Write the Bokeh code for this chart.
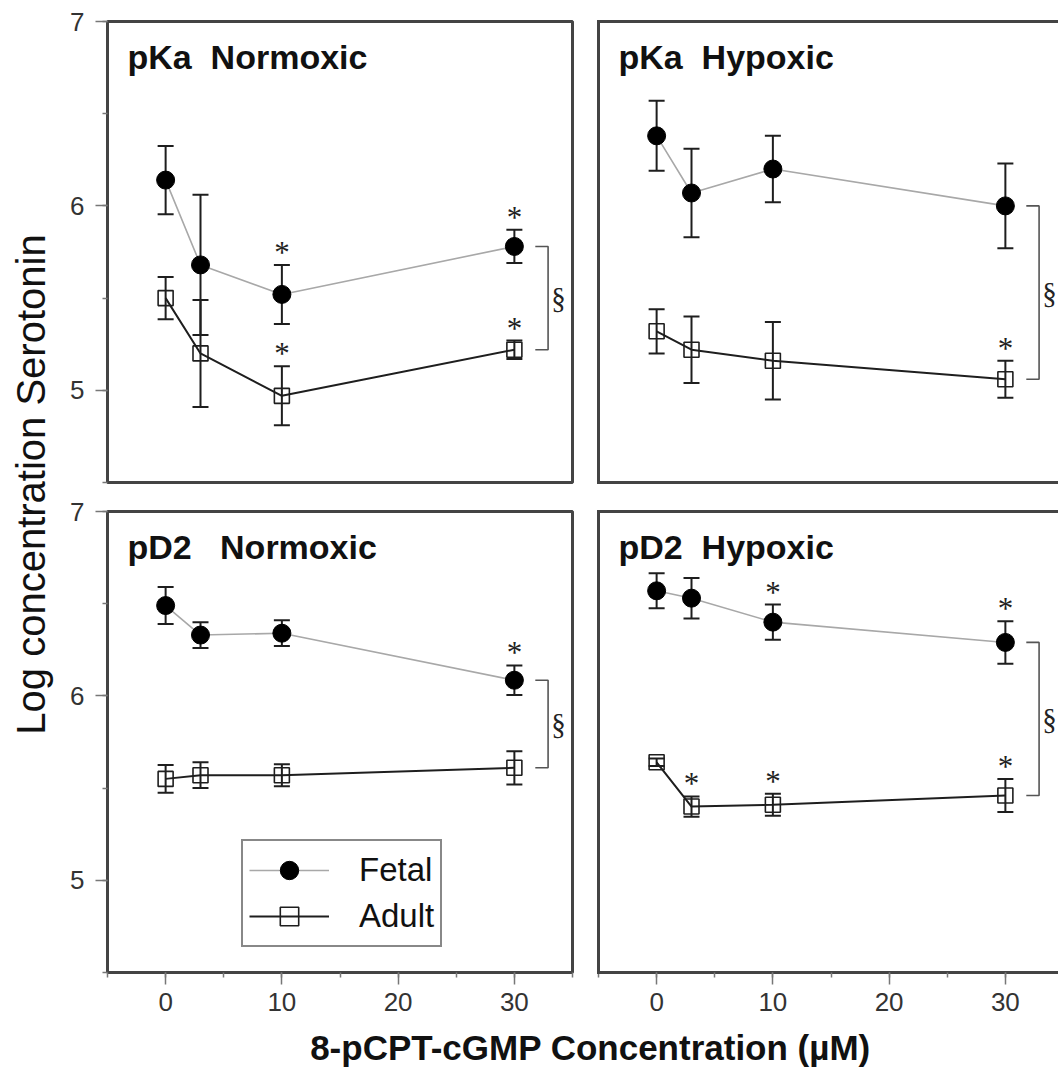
from bokeh.plotting import figure
from bokeh.models import (Range1d, ColumnDataSource, Whisker, TeeHead, Label, Legend,
                          LegendItem, LinearAxis, FixedTicker, SingleIntervalTicker)
from bokeh.layouts import row, column
from bokeh.embed import file_html
from bokeh.resources import INLINE
from bokeh.core.properties import value

# ---------------- data ----------------
conc = [0, 3, 10, 30]                      # 8-pCPT-cGMP concentration (uM)
x_major_interval = 10
y_major_interval = 1

NB = "\u00a0"
panel_titles = ["pKa" + NB + NB + "Normoxic", "pKa" + NB + NB + "Hypoxic",
                "pD2" + NB + NB + NB + "Normoxic", "pD2" + NB + NB + "Hypoxic"]
series_names = ["Fetal", "Adult"]
x_title = "8-pCPT-cGMP Concentration (\u00b5M)"
y_title = "Log concentration Serotonin"

pka_norm_fetal = [6.14, 5.68, 5.52, 5.78]
pka_norm_fetal_err = [0.185, 0.38, 0.16, 0.09]
pka_norm_adult = [5.50, 5.20, 4.97, 5.22]
pka_norm_adult_err = [0.115, 0.29, 0.16, 0.05]
pka_norm_fetal_sig = [0, 0, 1, 1]
pka_norm_adult_sig = [0, 0, 1, 1]

pka_hyp_fetal = [6.38, 6.07, 6.20, 6.00]
pka_hyp_fetal_err = [0.19, 0.24, 0.18, 0.23]
pka_hyp_adult = [5.32, 5.22, 5.16, 5.06]
pka_hyp_adult_err = [0.12, 0.18, 0.21, 0.10]
pka_hyp_fetal_sig = [0, 0, 0, 0]
pka_hyp_adult_sig = [0, 0, 0, 1]

pd2_norm_fetal = [6.49, 6.33, 6.34, 6.085]
pd2_norm_fetal_err = [0.10, 0.07, 0.07, 0.08]
pd2_norm_adult = [5.55, 5.57, 5.57, 5.61]
pd2_norm_adult_err = [0.075, 0.07, 0.06, 0.09]
pd2_norm_fetal_sig = [0, 0, 0, 1]
pd2_norm_adult_sig = [0, 0, 0, 0]

pd2_hyp_fetal = [6.57, 6.53, 6.40, 6.29]
pd2_hyp_fetal_err = [0.095, 0.11, 0.095, 0.115]
pd2_hyp_adult = [5.64, 5.40, 5.41, 5.46]
pd2_hyp_adult_err = [0.02, 0.055, 0.06, 0.09]
pd2_hyp_fetal_sig = [0, 0, 1, 1]
pd2_hyp_adult_sig = [0, 1, 1, 1]

# ---------------- style ----------------
SANS = "Liberation Sans"
SERIF = "Liberation Serif"
FRAME = "#444444"
FRAME_W = 3
TICK_C = "#777777"
DARK = "#1e1e1e"
FETAL_LINE = "#a8a8a8"
BRACKET_X0, BRACKET_X1, SECTION_X = 31.8, 32.9, 33.8
X_START, X_END_FULL = -5, 35
Y_START, Y_END = 4.5, 7
SCALE_X = 11.625  # px per x unit (same in every panel)
FRAME_H = 461


def line_only_axis(ax):
    ax.ticker = FixedTicker(ticks=[])
    ax.axis_line_color = FRAME
    ax.axis_line_width = FRAME_W
    ax.axis_line_cap = "square"
    ax.major_tick_line_color = None
    ax.minor_tick_line_color = None


def style_ticks(ax):
    ax.major_tick_out = 12
    ax.major_tick_in = 0
    ax.minor_tick_out = 5
    ax.minor_tick_in = 0
    ax.major_tick_line_color = TICK_C
    ax.minor_tick_line_color = TICK_C
    ax.major_tick_line_width = 1.5
    ax.minor_tick_line_width = 1.5
    ax.major_label_text_font = SANS
    ax.major_label_text_font_size = "26px"
    ax.major_label_text_color = "#333333"


def make_panel(title, fetal, fetal_err, adult, adult_err, fetal_sig, adult_sig,
               left, top, legend=False):
    frame_w = 465 if left else 460
    b_left = 49 if left else 13
    b_right = 13 if left else 0
    b_top = 21 if top else 15
    b_bottom = 14 if top else 50
    x_end = X_END_FULL if left else X_START + frame_w / SCALE_X
    p = figure(width=b_left + frame_w + b_right, height=b_top + FRAME_H + b_bottom,
               x_range=Range1d(X_START, x_end), y_range=Range1d(Y_START, Y_END),
               output_backend="svg", toolbar_location=None,
               min_border_left=b_left, min_border_right=b_right,
               min_border_top=b_top, min_border_bottom=b_bottom)
    p.grid.visible = False
    p.background_fill_color = "white"
    p.border_fill_color = "white"

    xax = p.xaxis[0]
    yax = p.yaxis[0]
    if left:
        p.outline_line_color = FRAME
        p.outline_line_width = FRAME_W
        p.outline_line_alpha = 1
        yax.ticker = SingleIntervalTicker(interval=y_major_interval, num_minor_ticks=2)
        yax.axis_line_color = None
        style_ticks(yax)
        yax.major_label_standoff = 11
    else:
        p.outline_line_color = None
        line_only_axis(yax)
        p.add_layout(LinearAxis(ticker=FixedTicker(ticks=[]), axis_line_color=FRAME,
                                axis_line_width=FRAME_W, axis_line_cap="square",
                                major_tick_line_color=None, minor_tick_line_color=None),
                     "above")
    if top:
        if left:
            xax.visible = False
        else:
            line_only_axis(xax)
    else:
        xax.ticker = SingleIntervalTicker(interval=x_major_interval, num_minor_ticks=2)
        style_ticks(xax)
        xax.major_label_standoff = 8
        if left:
            xax.axis_line_color = None
        else:
            xax.axis_line_color = FRAME
            xax.axis_line_width = FRAME_W
            xax.axis_line_cap = "square"

    src_f = ColumnDataSource(dict(x=conc, y=fetal,
                                  upper=[m + e for m, e in zip(fetal, fetal_err)],
                                  lower=[m - e for m, e in zip(fetal, fetal_err)]))
    src_a = ColumnDataSource(dict(x=conc, y=adult,
                                  upper=[m + e for m, e in zip(adult, adult_err)],
                                  lower=[m - e for m, e in zip(adult, adult_err)]))

    lf = p.line("x", "y", source=src_f, line_color=FETAL_LINE, line_width=1.6)
    la = p.line("x", "y", source=src_a, line_color=DARK, line_width=2)
    sf = p.scatter("x", "y", source=src_f, marker="circle", size=18,
                   fill_color="black", line_color="black")
    sa = p.scatter("x", "y", source=src_a, marker="square", size=15,
                   fill_alpha=0, line_color=DARK, line_width=1.6)
    for src in (src_f, src_a):
        p.add_layout(Whisker(source=src, base="x", upper="upper", lower="lower",
                             line_color=DARK, line_width=2,
                             upper_head=TeeHead(size=16, line_color=DARK, line_width=2),
                             lower_head=TeeHead(size=16, line_color=DARK, line_width=2)))

    # significance asterisks
    sx, sy = [], []
    for means, errs, sig in ((fetal, fetal_err, fetal_sig), (adult, adult_err, adult_sig)):
        for c, m, e, s in zip(conc, means, errs, sig):
            if s:
                sx.append(c)
                sy.append(m + e)
    if sx:
        p.text(x=sx, y=sy, text=["*"] * len(sx), text_font=value(SERIF),
               text_font_size="31px", text_align="center", text_baseline="bottom",
               text_color="#222222", y_offset=5)

    # section bracket between fetal and adult at the highest concentration
    f_last, a_last = fetal[-1], adult[-1]
    p.line(x=[BRACKET_X0, BRACKET_X1, BRACKET_X1, BRACKET_X0],
           y=[f_last, f_last, a_last, a_last], line_color="#555555", line_width=1.6)
    p.text(x=[SECTION_X], y=[(f_last + a_last) / 2], text=["\u00a7"],
           text_font=value(SERIF), text_font_size="29px", text_align="center",
           text_baseline="middle", text_color="#222222")

    p.add_layout(Label(x=X_START, y=Y_END, x_offset=20, y_offset=-35, text=title,
                       text_font=SANS, text_font_style="bold", text_font_size="34px",
                       text_color="#111111", text_baseline="middle"))

    if legend:
        lg = Legend(items=[LegendItem(label=series_names[0], renderers=[lf, sf]),
                           LegendItem(label=series_names[1], renderers=[la, sa])],
                    location=(134, 25), orientation="vertical",
                    label_text_font=SANS, label_text_font_size="33px",
                    label_text_color="#111111",
                    border_line_color="#111111", border_line_width=2.5,
                    background_fill_color="white", background_fill_alpha=1,
                    padding=6, margin=0, spacing=0,
                    glyph_width=80, glyph_height=46, label_height=46, label_standoff=30)
        p.add_layout(lg)
    return p


tl = make_panel(panel_titles[0], pka_norm_fetal, pka_norm_fetal_err, pka_norm_adult,
                pka_norm_adult_err, pka_norm_fetal_sig, pka_norm_adult_sig, left=True, top=True)
tr = make_panel(panel_titles[1], pka_hyp_fetal, pka_hyp_fetal_err, pka_hyp_adult,
                pka_hyp_adult_err, pka_hyp_fetal_sig, pka_hyp_adult_sig, left=False, top=True)
bl = make_panel(panel_titles[2], pd2_norm_fetal, pd2_norm_fetal_err, pd2_norm_adult,
                pd2_norm_adult_err, pd2_norm_fetal_sig, pd2_norm_adult_sig, left=True, top=False,
                legend=True)
br = make_panel(panel_titles[3], pd2_hyp_fetal, pd2_hyp_fetal_err, pd2_hyp_adult,
                pd2_hyp_adult_err, pd2_hyp_fetal_sig, pd2_hyp_adult_sig, left=False, top=False)


def label_fig(w, h):
    f = figure(width=w, height=h, x_range=Range1d(0, w), y_range=Range1d(0, h),
               output_backend="svg", toolbar_location=None, min_border=0,
               x_axis_location=None, y_axis_location=None)
    f.grid.visible = False
    f.outline_line_color = None
    f.background_fill_color = "white"
    f.border_fill_color = "white"
    return f


grid_h = tl.height + bl.height
yl = label_fig(58, grid_h)
yl.add_layout(Label(x=30, y=grid_h - 484, text=y_title, angle=90, angle_units="deg",
                    text_align="center", text_baseline="middle", text_font=SANS,
                    text_font_size="40px", text_color="#111111"))

total_w = 58 + tl.width + tr.width
xl_h = 1074 - grid_h
xl = label_fig(total_w, xl_h)
xl.add_layout(Label(x=590, y=xl_h - 25, text=x_title, text_align="center",
                    text_baseline="middle", text_font=SANS, text_font_style="bold",
                    text_font_size="35px", text_color="#111111"))

layout = column(row(yl, column(row(tl, tr), row(bl, br))), xl)

open("out.html", "w").write(file_html(layout, INLINE))
